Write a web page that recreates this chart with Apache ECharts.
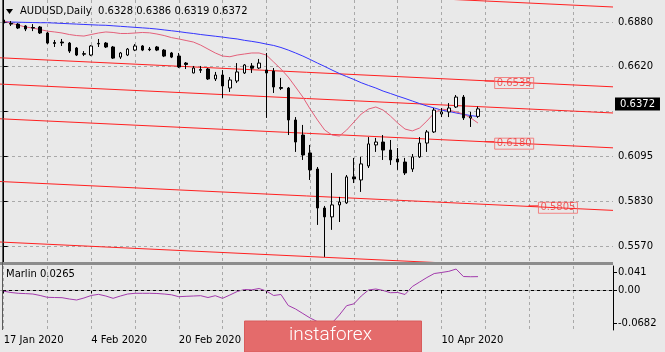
<!DOCTYPE html>
<html>
<head>
<meta charset="utf-8">
<script src="https://cdn.jsdelivr.net/npm/echarts@6/dist/echarts.min.js"></script>
<style>
html, body { margin: 0; padding: 0; background: #e9e9e9; }
#chart { width: 665px; height: 352px; }
</style>
</head>
<body>
<div id="chart"></div>
<script>
'use strict';
// AUDUSD daily, first bar 17 Jan 2020
var slotCount = 84;   // bars visible on the screen (incl. empty future space)
var open  = [0.6892,0.6872,0.6868,0.6857,0.6848,0.6851,0.6816,0.6760,0.6763,0.6757,0.6728,0.6695,0.6687,0.6755,0.6757,0.6734,0.6675,0.6687,0.6716,0.6740,0.6722,0.6734,0.6716,0.6699,0.6681,0.6640,0.6582,0.6602,0.6605,0.6547,0.6570,0.6494,0.6535,0.6582,0.6623,0.6611,0.6599,0.6593,0.6497,0.6494,0.6307,0.6219,0.6114,0.6020,0.5792,0.5740,0.5810,0.5822,0.5974,0.5956,0.6038,0.6161,0.6178,0.6131,0.6079,0.6061,0.6020,0.6091,0.6172,0.6237,0.6342,0.6354,0.6383,0.6441,0.6319,0.6328];
var high  = [0.6898,0.6886,0.6874,0.6862,0.6868,0.6857,0.6822,0.6775,0.6781,0.6763,0.6734,0.6710,0.6745,0.6781,0.6763,0.6740,0.6705,0.6728,0.6751,0.6745,0.6734,0.6740,0.6722,0.6705,0.6699,0.6646,0.6623,0.6623,0.6611,0.6588,0.6599,0.6558,0.6640,0.6634,0.6640,0.6664,0.6699,0.6611,0.6553,0.6500,0.6324,0.6278,0.6161,0.6032,0.5804,0.5997,0.5857,0.5985,0.6085,0.6091,0.6207,0.6202,0.6219,0.6190,0.6143,0.6085,0.6108,0.6207,0.6248,0.6377,0.6377,0.6406,0.6453,0.6453,0.6354,0.6386];
var low   = [0.6868,0.6857,0.6839,0.6827,0.6827,0.6810,0.6751,0.6734,0.6740,0.6699,0.6681,0.6681,0.6681,0.6734,0.6728,0.6664,0.6664,0.6681,0.6710,0.6710,0.6710,0.6710,0.6675,0.6669,0.6611,0.6605,0.6580,0.6582,0.6541,0.6535,0.6436,0.6471,0.6523,0.6576,0.6582,0.6605,0.6319,0.6465,0.6482,0.6219,0.6120,0.6073,0.5956,0.5693,0.5506,0.5664,0.5710,0.5816,0.5938,0.5886,0.6026,0.6120,0.6073,0.6044,0.6015,0.5985,0.6003,0.6085,0.6120,0.6231,0.6324,0.6324,0.6377,0.6307,0.6266,0.6319];
var close = [0.6874,0.6868,0.6845,0.6839,0.6845,0.6816,0.6757,0.6755,0.6758,0.6710,0.6687,0.6692,0.6740,0.6752,0.6734,0.6669,0.6699,0.6722,0.6740,0.6716,0.6718,0.6716,0.6681,0.6675,0.6617,0.6632,0.6611,0.6598,0.6547,0.6570,0.6506,0.6541,0.6588,0.6629,0.6610,0.6640,0.6582,0.6500,0.6492,0.6307,0.6178,0.6102,0.6015,0.5792,0.5740,0.5810,0.5827,0.5974,0.5962,0.6050,0.6167,0.6178,0.6131,0.6073,0.6061,0.5997,0.6091,0.6172,0.6237,0.6365,0.6354,0.6377,0.6441,0.6319,0.6328,0.6372];
//均线
var maFast = [0.6886,0.6874,0.6862,0.6851,0.6845,0.6836,0.6827,0.6822,0.6816,0.6807,0.6801,0.6798,0.6807,0.6816,0.6822,0.6819,0.6813,0.6813,0.6816,0.6819,0.6817,0.6810,0.6801,0.6789,0.6781,0.6772,0.6763,0.6745,0.6722,0.6699,0.6681,0.6677,0.6687,0.6693,0.6699,0.6699,0.6687,0.6646,0.6605,0.6558,0.6500,0.6441,0.6371,0.6307,0.6248,0.6219,0.6213,0.6248,0.6295,0.6342,0.6371,0.6383,0.6365,0.6330,0.6289,0.6254,0.6243,0.6260,0.6301,0.6348,0.6371,0.6365,0.6354,0.6342,0.6319,0.6289];
var maSlow = [0.6881,0.6880,0.6879,0.6878,0.6877,0.6876,0.6876,0.6874,0.6872,0.6870,0.6868,0.6866,0.6864,0.6862,0.6861,0.6858,0.6855,0.6852,0.6849,0.6846,0.6843,0.6839,0.6834,0.6829,0.6824,0.6818,0.6813,0.6807,0.6802,0.6797,0.6792,0.6786,0.6781,0.6773,0.6767,0.6760,0.6751,0.6743,0.6731,0.6716,0.6699,0.6681,0.6661,0.6640,0.6620,0.6599,0.6579,0.6561,0.6544,0.6525,0.6509,0.6494,0.6476,0.6462,0.6447,0.6433,0.6418,0.6403,0.6389,0.6377,0.6365,0.6357,0.6348,0.6340,0.6333,0.6327];
var marlin = [-0.0013,-0.0038,-0.0053,-0.0059,-0.0067,-0.0095,-0.0130,-0.0134,-0.0137,-0.0162,-0.0181,-0.0143,-0.0095,-0.0073,-0.0105,-0.0149,-0.0105,-0.0067,-0.0053,-0.0053,-0.0053,-0.0057,-0.0067,-0.0082,-0.0118,-0.0111,-0.0105,-0.0099,-0.0134,-0.0099,-0.0149,-0.0086,-0.0019,0.0019,0.0013,0.0038,-0.0010,-0.0095,-0.0076,-0.0286,-0.0353,-0.0439,-0.0525,-0.0595,-0.0682,-0.0620,-0.0468,-0.0290,-0.0254,-0.0105,0.0010,0.0029,0.0000,-0.0042,-0.0038,-0.0076,0.0076,0.0162,0.0248,0.0324,0.0344,0.0366,0.0410,0.0267,0.0263,0.0265];

var priceTicks = [0.5570, 0.5830, 0.6095, 0.6357, 0.6620, 0.6880];
var priceTickText = ['0.5570', '0.5830', '0.6095', '', '0.6620', '0.6880'];
var marlinTicks = [-0.062, 0, 0.0353];
var marlinTickText = ['-0.0682', '0.00', '0.041'];
var dateLabelIdx = [0, 12, 24, 36, 48, 60];

// 趋势线: 左边和右边的价格
var trendLeft  = [0.7137, 0.6671, 0.6517, 0.6314, 0.5947, 0.5593];
var trendRight = [0.6968, 0.6501, 0.6348, 0.6144, 0.5778, 0.5424];
var levelBar   = [66.6, 66.6, 72.6];
var levelPrice = [0.6535, 0.6180, 0.5805];

var months = ['Jan','Feb','Mar','Apr','May','Jun'];
var dates = [];
var d = new Date(Date.UTC(2020, 0, 17));
while (dates.length < slotCount) {
    var wd = d.getUTCDay();
    if (wd !== 0 && wd !== 6) {
        dates.push(d.getUTCDate() + ' ' + months[d.getUTCMonth()] + ' ' + d.getUTCFullYear());
    }
    d.setUTCDate(d.getUTCDate() + 1);
}

var candles = [];
for (var i = 0; i < open.length; i++) {
    candles.push([open[i], close[i], low[i], high[i]]);
}
var last = open.length - 1;
var font = '"DejaVu Sans", sans-serif';
var gridStyle = { color: '#a9a9a9', type: [3, 3], width: 1 };

var series = [];
for (var t = 0; t < trendLeft.length; t++) {
    series.push({
        type: 'line', xAxisIndex: 1, yAxisIndex: 0,
        data: [[-0.5, trendLeft[t]], [slotCount - 0.5, trendRight[t]]],
        symbol: 'none', silent: true, z: 3,
        lineStyle: { color: '#ff2020', width: 1 }
    });
}
series.push({
    type: 'line', xAxisIndex: 0, yAxisIndex: 0, data: maSlow,
    symbol: 'none', z: 4, lineStyle: { color: '#3434ff', width: 1 }
});
series.push({
    type: 'line', xAxisIndex: 0, yAxisIndex: 0, data: maFast,
    symbol: 'none', z: 4, lineStyle: { color: '#e4607a', width: 1 }
});
series.push({
    type: 'candlestick', xAxisIndex: 0, yAxisIndex: 0, data: candles,
    barWidth: 3, z: 5,
    itemStyle: { color: '#ffffff', color0: '#000000', borderColor: '#000000', borderColor0: '#000000', borderWidth: 1 }
});
// 当前价格
series.push({
    type: 'line', xAxisIndex: 1, yAxisIndex: 0, data: [], z: 7,
    markLine: {
        silent: true, symbol: ['none', 'none'], animation: false,
        lineStyle: { color: 'rgba(0,0,0,0)', width: 1 },
        data: [{ yAxis: close[last] }],
        label: {
            show: true, position: 'end', distance: 2,
            formatter: close[last].toFixed(4),
            color: '#fff', backgroundColor: '#000', padding: [2, 5, 1, 5],
            fontFamily: font, fontSize: 10
        }
    }
});
var levelData = [];
for (var k = 0; k < levelBar.length; k++) levelData.push([levelBar[k], levelPrice[k]]);
series.push({
    type: 'scatter', xAxisIndex: 1, yAxisIndex: 0, data: levelData,
    symbol: 'rect', symbolSize: [10, 1], z: 6,
    itemStyle: { color: '#ff1010' },
    label: {
        show: true, position: 'right', distance: 0, offset: [0, 2],
        formatter: function (p) { return p.value[1].toFixed(4); },
        color: '#f03c3c', borderColor: '#f26a6a', borderWidth: 1,
        padding: [1, 2, 0, 2], fontFamily: font, fontSize: 10
    }
});
series.push({
    type: 'line', xAxisIndex: 2, yAxisIndex: 1, data: marlin,
    symbol: 'none', z: 4, lineStyle: { color: '#a23aac', width: 1 },
    markLine: {
        silent: true, symbol: ['none', 'none'], animation: false, label: { show: false },
        lineStyle: gridStyle,
        data: [{ yAxis: 0 }]
    }
});

var chart = echarts.init(document.getElementById('chart'));
chart.setOption({
    animation: false,
    backgroundColor: '#e9e9e9',
    textStyle: { fontFamily: font },
    grid: [
        { left: 0, top: 0, width: 613, height: 262 },
        { left: 0, top: 266, width: 613, height: 64 }
    ],
    xAxis: [
        {
            type: 'category', gridIndex: 0, data: dates, boundaryGap: true,
            axisLine: { show: false }, axisTick: { show: false }, axisLabel: { show: false },
            splitLine: { show: true, interval: 5, alignWithLabel: true, lineStyle: gridStyle }
        },
        { type: 'value', gridIndex: 0, min: -0.5, max: slotCount - 0.5, show: false },
        {
            type: 'category', gridIndex: 1, data: dates, boundaryGap: true,
            axisLine: { show: true, lineStyle: { color: '#000', width: 1 } },
            axisTick: {
                show: true, alignWithLabel: true, length: 3, lineStyle: { color: '#000' },
                interval: function (idx) { return dateLabelIdx.indexOf(idx) >= 0; }
            },
            axisLabel: {
                interval: function (idx) { return dateLabelIdx.indexOf(idx) >= 0; },
                align: 'left', color: '#000', fontFamily: font, fontSize: 10, margin: 5
            },
            splitLine: { show: true, interval: 5, alignWithLabel: true, lineStyle: gridStyle }
        }
    ],
    yAxis: [
        {
            type: 'value', gridIndex: 0, position: 'right', min: 0.5476, max: 0.7009,
            axisLine: { show: true, lineStyle: { color: '#000', width: 1 } },
            axisTick: { show: true, customValues: priceTicks, length: 4, lineStyle: { color: '#000' } },
            axisLabel: {
                customValues: priceTicks, color: '#000', fontFamily: font, fontSize: 10, margin: 5,
                formatter: function (v) {
                    var j = priceTicks.indexOf(v);
                    return j >= 0 ? priceTickText[j] : '';
                }
            },
            splitLine: { show: true, lineStyle: gridStyle }
        },
        {
            type: 'value', gridIndex: 1, position: 'right', min: -0.0754, max: 0.0468,
            axisLine: { show: true, lineStyle: { color: '#000', width: 1 } },
            axisTick: { show: true, customValues: marlinTicks, length: 4, lineStyle: { color: '#000' } },
            axisLabel: {
                customValues: marlinTicks, color: '#000', fontFamily: font, fontSize: 10, margin: 5,
                formatter: function (v) {
                    var j = marlinTicks.indexOf(v);
                    return j >= 0 ? marlinTickText[j] : '';
                }
            },
            splitLine: { show: false }
        }
    ],
    graphic: [
        { type: 'rect', z: 50, shape: { x: 0, y: 262, width: 613, height: 3 }, style: { fill: '#8c8c8c' } },
        { type: 'line', z: 50, shape: { x1: 2.5, y1: 0, x2: 2.5, y2: 330 }, style: { stroke: '#5a5a5a', lineWidth: 1 } },
        { type: 'polygon', z: 50, shape: { points: [[6, 9], [13, 9], [9.5, 14]] }, style: { fill: '#000' } },
        {
            type: 'text', z: 50, x: 20, y: 6,
            style: {
                text: 'AUDUSD,Daily  ' + open[last].toFixed(4) + ' ' + high[last].toFixed(4) + ' ' + low[last].toFixed(4) + ' ' + close[last].toFixed(4),
                fill: '#000', font: '10px ' + font
            }
        },
        {
            type: 'text', z: 50, x: 6, y: 269,
            style: { text: 'Marlin ' + marlin[last].toFixed(4), fill: '#000', font: '10px ' + font }
        },
        {
            type: 'group', z: 100,
            children: [
                { type: 'rect', z: 100, shape: { x: 244.5, y: 321, width: 177, height: 31 }, style: { fill: '#e46b6b', stroke: '#d85c5c', lineWidth: 1 } },
                { type: 'text', z: 101, x: 289, y: 326, style: { text: 'instaforex', fill: '#fff', font: '300 19px Roboto, sans-serif' } }
            ]
        }
    ],
    series: series
});
</script>
</body>
</html>
